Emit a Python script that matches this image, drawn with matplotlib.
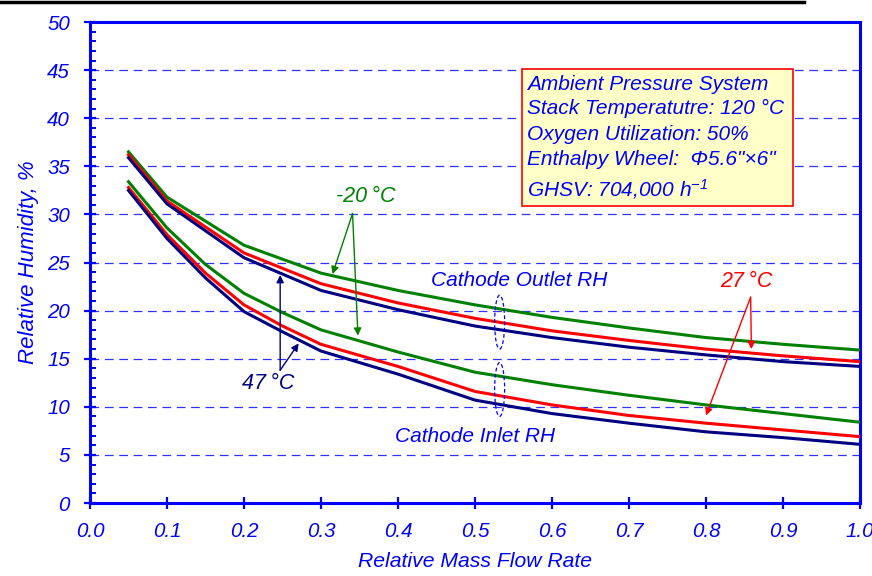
import matplotlib
matplotlib.use("Agg")
import matplotlib.pyplot as plt
from matplotlib.lines import Line2D
from matplotlib.patches import Ellipse, Rectangle

plt.rcParams["font.family"] = ["Liberation Sans", "DejaVu Sans"]
plt.rcParams["font.style"] = "italic"
plt.rcParams["mathtext.fontset"] = "custom"
plt.rcParams["mathtext.rm"] = "Liberation Sans:italic"
plt.rcParams["mathtext.it"] = "Liberation Sans:italic"

BLUE = "#0000ff"
GREEN = "#008000"
RED = "#ff0000"
NAVY = "#000080"

# cathode outlet RH, by ambient temperature
x_outlet = [0.05, 0.1, 0.2, 0.3, 0.4, 0.5, 0.6, 0.7, 0.8, 0.9, 1.0]
outlet_m20 = [36.5, 31.8, 26.8, 23.9, 22.1, 20.6, 19.3, 18.2, 17.2, 16.5, 15.9]
outlet_27 = [36.2, 31.4, 26.0, 22.8, 20.8, 19.2, 17.9, 16.9, 16.0, 15.3, 14.7]
outlet_47 = [35.9, 31.1, 25.5, 22.1, 20.1, 18.4, 17.2, 16.2, 15.4, 14.7, 14.2]

# cathode inlet RH
x_inlet = [0.05, 0.1, 0.15, 0.2, 0.25, 0.3, 0.4, 0.5, 0.6, 0.7, 0.8, 0.9, 1.0]
inlet_m20 = [33.4, 28.6, 24.8, 21.8, 19.8, 18.0, 15.7, 13.6, 12.3, 11.2, 10.2, 9.3, 8.4]
inlet_27 = [32.8, 27.9, 23.9, 20.6, 18.4, 16.5, 14.2, 11.6, 10.2, 9.1, 8.3, 7.6, 6.9]
inlet_47 = [32.5, 27.5, 23.4, 19.9, 17.8, 15.8, 13.4, 10.7, 9.3, 8.3, 7.4, 6.8, 6.1]

x_ticks = [0.0, 0.1, 0.2, 0.3, 0.4, 0.5, 0.6, 0.7, 0.8, 0.9, 1.0]
y_ticks = [0, 5, 10, 15, 20, 25, 30, 35, 40, 45, 50]

info_lines = [
    "Ambient Pressure System",
    "Stack Temperatutre: 120 \u00b0C",
    "Oxygen Utilization: 50%",
    "Enthalpy Wheel:  \u03a65.6\"\u00d76\"",
    "GHSV: 704,000 h$^{-1}$",
]

fig = plt.figure(figsize=(8.72, 5.76), dpi=100)
ax = fig.add_axes([0.1032, 0.1267, 0.883, 0.835])

lw = 2.2
ax.plot(x_outlet, outlet_m20, color=GREEN, lw=lw, zorder=3)
ax.plot(x_outlet, outlet_27, color=RED, lw=lw, zorder=3)
ax.plot(x_outlet, outlet_47, color=NAVY, lw=lw, zorder=3)
ax.plot(x_inlet, inlet_m20, color=GREEN, lw=lw, zorder=3)
ax.plot(x_inlet, inlet_27, color=RED, lw=lw, zorder=3)
ax.plot(x_inlet, inlet_47, color=NAVY, lw=lw, zorder=3)

ax.set_xlim(0, 1.0)
ax.set_ylim(0, 50)
ax.set_xticks(x_ticks)
ax.set_xticklabels([f"{v:.1f}" for v in x_ticks])
ax.set_yticks(y_ticks)
ax.set_yticks(range(0, 51), minor=True)

for y in y_ticks[1:-1]:
    ax.axhline(y, color="#3333ff", lw=0.9, dashes=(7, 4.5), zorder=1)

for side in ["left", "bottom", "top", "right"]:
    ax.spines[side].set_color(BLUE)
    ax.spines[side].set_linewidth(2.2)

ax.tick_params(axis="both", which="major", direction="inout", length=9,
               width=1.6, color=BLUE, labelcolor=BLUE, labelsize=14.8)
ax.tick_params(axis="x", which="major", pad=9)
ax.tick_params(axis="y", which="major", pad=10)
ax.tick_params(axis="y", which="minor", direction="in", length=4,
               width=1.4, color=BLUE)
ax.tick_params(axis="x", which="minor", bottom=False)

ax.set_xlabel("Relative Mass Flow Rate", color=BLUE, fontsize=15.2, labelpad=8)
ax.set_ylabel("Relative Humidity, %", color=BLUE, fontsize=16, labelpad=6)

# info box
ax.add_patch(Rectangle((0.561, 30.9), 0.352, 14.2, facecolor="#ffffc8",
                       edgecolor=RED, lw=1.2, zorder=4))
line_y = [43.5, 41.0, 38.3, 35.7, 32.6]
for txt, yy in zip(info_lines, line_y):
    ax.text(0.567, yy, txt, color=BLUE, fontsize=15, va="center", ha="left", zorder=5)

# temperature callouts
arrow_kw = dict(arrowstyle="-|>", lw=1.0, mutation_scale=11, shrinkA=0, shrinkB=0)

ax.text(0.358, 31.9, "-20\u2009\u00b0C", color=GREEN, fontsize=15.5, ha="center", va="center")
for tip in [(0.315, 23.8), (0.348, 17.4)]:
    ax.annotate("", xy=tip, xytext=(0.341, 30.1),
                arrowprops=dict(color=GREEN, **arrow_kw), zorder=6)

ax.text(0.231, 12.4, "47\u2009\u00b0C", color=NAVY, fontsize=15.5, ha="center", va="center")
for tip in [(0.247, 23.7), (0.271, 16.6)]:
    ax.annotate("", xy=tip, xytext=(0.247, 13.8),
                arrowprops=dict(color=NAVY, **arrow_kw), zorder=6)

ax.text(0.853, 23.0, "27\u2009\u00b0C", color=RED, fontsize=15.5, ha="center", va="center")
for tip in [(0.859, 16.0), (0.80, 9.1)]:
    ax.annotate("", xy=tip, xytext=(0.858, 21.4),
                arrowprops=dict(color=RED, **arrow_kw), zorder=6)

ax.text(0.557, 23.1, "Cathode Outlet RH", color=BLUE, fontsize=15, ha="center", va="center")
ax.text(0.50, 6.9, "Cathode Inlet RH", color=BLUE, fontsize=15, ha="center", va="center")

for cy in [18.8, 11.8]:
    ax.add_patch(Ellipse((0.532, cy), 0.013, 5.6, fill=False, edgecolor=BLUE,
                         lw=0.9, ls=(0, (3, 2)), zorder=5))

# black rule across the top of the sheet
fig.add_artist(Line2D([0, 0.922], [0.9965, 0.9965], color="black", lw=2.5))

fig.savefig("out.png", dpi=100)
